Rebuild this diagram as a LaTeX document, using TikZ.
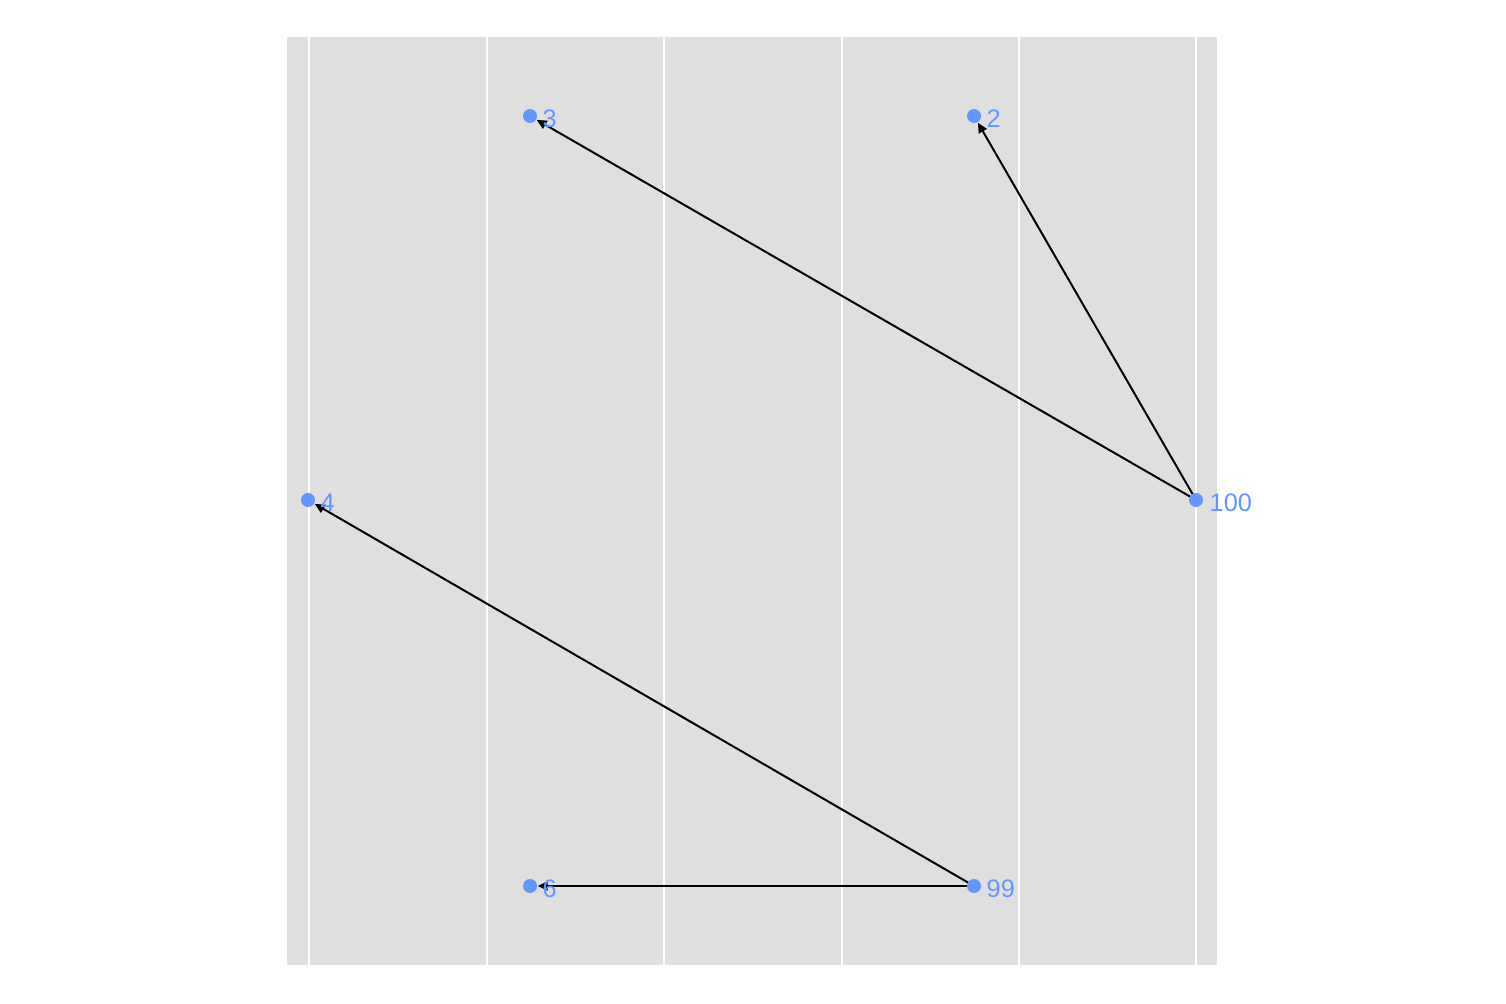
\documentclass[tikz,border=0pt]{standalone}
\usepackage{fontspec}
\setmainfont{Liberation Sans}
\definecolor{PanelGray}{RGB}{223,223,223}
\definecolor{PointBlue}{RGB}{100,150,255}
\usetikzlibrary{arrows.meta, positioning, backgrounds}

\begin{document}
\begin{tikzpicture}[x=0.01cm, y=-0.01cm,
    pt/.style={circle, fill=PointBlue, inner sep=0pt, minimum size=0.14cm},
    lbl/.style={font=\fontsize{7.2}{8}\selectfont, text=PointBlue, inner sep=0pt, anchor=west},
    grid/.style={white, line width=0.02cm},
    arr/.style={-{Triangle[length=0.1cm, width=0.09cm]}, line width=0.02cm, black}
  ]
    \useasboundingbox (0,0) rectangle (1506,1004);

    % Panel and grid
    \begin{scope}[on background layer]
      \fill[PanelGray] (287,37) rectangle (1217,965);
      \foreach \gx in {309,486.5,664,841.5,1019,1196}
        \draw[grid] (\gx,37) -- (\gx,965);
    \end{scope}

    % Points
    \node[pt] (p3) at (530,116) {};
    \node[pt] (p2) at (974,116) {};
    \node[pt] (p4) at (308,500) {};
    \node[pt] (p100) at (1196,500) {};
    \node[pt] (p6) at (530,886) {};
    \node[pt] (p99) at (974,886) {};

    % Labels
    \node[lbl] (t3) at (542,119) {3};
    \node[lbl] (t2) at (986,119) {2};
    \node[lbl] (t4) at (320,503) {4};
    \node[lbl] (t100) at (1209,503) {100};
    \node[lbl] (t6) at (542,889) {6};
    \node[lbl] (t99) at (986,889) {99};

    % Edges
    \begin{scope}[on background layer]
      \draw[arr] (p100.center) -- (p3);
      \draw[arr] (p100.center) -- (p2);
      \draw[arr] (p99.center) -- (p4);
      \draw[arr] (p99.center) -- (p6);
    \end{scope}
  \end{tikzpicture}
\end{document}
